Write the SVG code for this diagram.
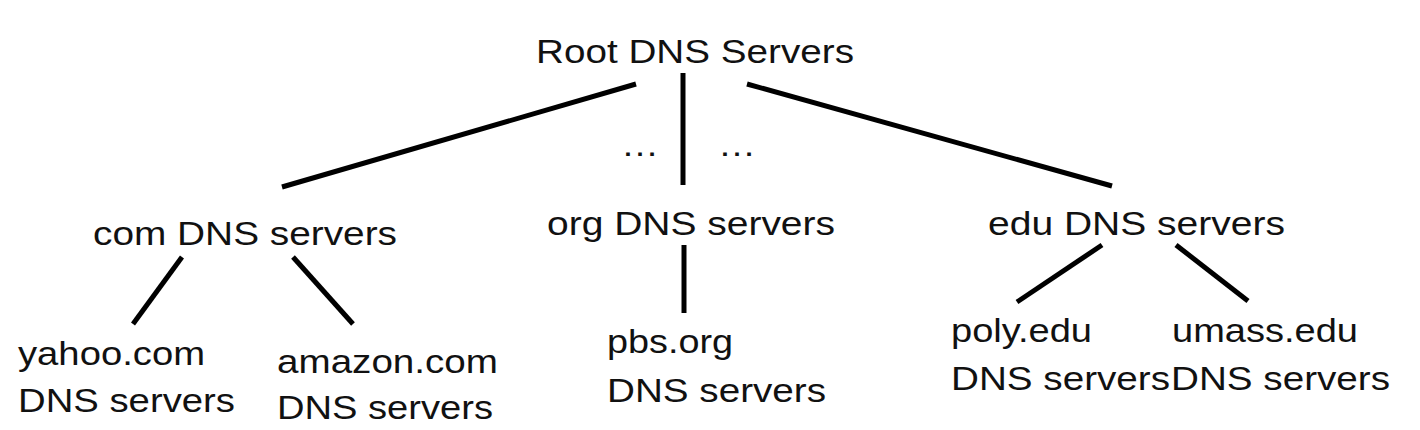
<svg xmlns="http://www.w3.org/2000/svg" width="1420" height="430" viewBox="0 0 1420 430">
<style>
text{font-family:"Liberation Sans",Arial,sans-serif;font-size:34px;fill:#111;}
.c line{stroke:#000;stroke-width:5;stroke-linecap:butt;}
</style>
<rect width="1420" height="430" fill="#fff"/>
<g class="c" id="connectors">
<line x1="636" y1="84" x2="282" y2="187"/>
<line x1="683" y1="73" x2="683" y2="185"/>
<line x1="747" y1="84" x2="1112" y2="186"/>
<line x1="182" y1="257" x2="133" y2="324"/>
<line x1="293" y1="257" x2="353" y2="324"/>
<line x1="684" y1="245" x2="684" y2="313"/>
<line x1="1102" y1="245" x2="1017" y2="302"/>
<line x1="1176" y1="245" x2="1248" y2="301"/>
</g>
<g id="root"><text x="536" y="63" textLength="318" lengthAdjust="spacingAndGlyphs">Root DNS Servers</text></g>
<g id="dots"><text x="621" y="156" textLength="38" lengthAdjust="spacingAndGlyphs">…</text><text x="718" y="156" textLength="38" lengthAdjust="spacingAndGlyphs">…</text></g>
<g id="com"><text x="93" y="245" textLength="304" lengthAdjust="spacingAndGlyphs">com DNS servers</text></g>
<g id="org"><text x="547" y="235" textLength="288" lengthAdjust="spacingAndGlyphs">org DNS servers</text></g>
<g id="edu"><text x="988" y="235" textLength="297" lengthAdjust="spacingAndGlyphs">edu DNS servers</text></g>
<g id="yahoo"><text x="18" y="365" textLength="187" lengthAdjust="spacingAndGlyphs">yahoo.com</text><text x="18" y="412" textLength="217" lengthAdjust="spacingAndGlyphs">DNS servers</text></g>
<g id="amazon"><text x="277" y="373" textLength="221" lengthAdjust="spacingAndGlyphs">amazon.com</text><text x="277" y="419" textLength="216" lengthAdjust="spacingAndGlyphs">DNS servers</text></g>
<g id="pbs"><text x="607" y="353" textLength="126" lengthAdjust="spacingAndGlyphs">pbs.org</text><text x="607" y="402" textLength="219" lengthAdjust="spacingAndGlyphs">DNS servers</text></g>
<g id="poly"><text x="951" y="342" textLength="141" lengthAdjust="spacingAndGlyphs">poly.edu</text><text x="951" y="390" textLength="219" lengthAdjust="spacingAndGlyphs">DNS servers</text></g>
<g id="umass"><text x="1172" y="342" textLength="186" lengthAdjust="spacingAndGlyphs">umass.edu</text><text x="1171" y="390" textLength="219" lengthAdjust="spacingAndGlyphs">DNS servers</text></g>
</svg>
